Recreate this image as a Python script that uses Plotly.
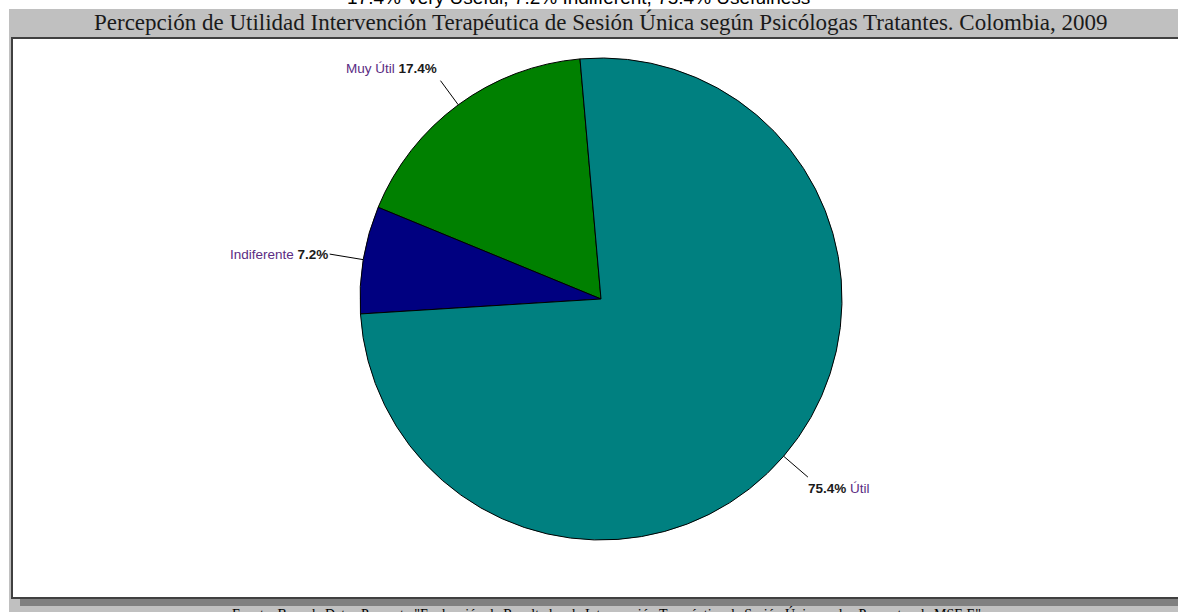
import math
import plotly.graph_objects as go

# ---- data ----
labels = ["Muy Útil", "Indiferente", "Útil"]
values = [17.4, 7.2, 75.4]
colors = ["#008000", "#000080", "#008080"]
title_text = "Percepción de Utilidad Intervención Terapéutica de Sesión Única según Psicólogas Tratantes. Colombia, 2009"
top_text = "17.4% Very Useful, 7.2% Indifferent, 75.4% Usefulness"
footer_text = 'Fuente: Base de Datos Proyecto "Evaluación de Resultados de Intervención Terapéutica de Sesión Única en los Proyectos de MSF-E"'

# ---- layout geometry (page pixels) ----
W, H = 1178, 612
OFF = 0  # body margin removed below
CX, CY, R = 601, 299, 241
START = 5.0  # degrees counter-clockwise from 12 o'clock where the first slice begins
total = sum(values)


def X(px):
    return (px - OFF) / W


def Y(py):
    return 1 - (py - OFF) / H


# plotly (counterclockwise) ends the first slice at `rotation`
rotation = -(START + values[0] / total * 360.0)

fig = go.Figure()
fig.add_trace(go.Pie(
    labels=labels, values=values, sort=False, direction="counterclockwise",
    rotation=rotation, marker=dict(colors=colors, line=dict(color="#000000", width=1)),
    textinfo="none", hoverinfo="label+percent", showlegend=False,
    domain=dict(x=[X(CX - R), X(CX + R)], y=[Y(CY + R), Y(CY - R)]),
))

shapes = [
    dict(type="rect", xref="paper", yref="paper", x0=X(9), x1=X(1200), y0=Y(640), y1=Y(9),
         fillcolor="#c0c0c0", line=dict(width=0), layer="below"),
    dict(type="rect", xref="paper", yref="paper", x0=X(20), x1=X(1200), y0=Y(606), y1=Y(598),
         fillcolor="#808080", line=dict(width=0), layer="below"),
    dict(type="rect", xref="paper", yref="paper", x0=X(12), x1=X(1200), y0=Y(598), y1=Y(38),
         fillcolor="#ffffff", line=dict(color="#404040", width=2), layer="below"),
]

# leader lines and labels computed from the slice angles
label_style = [
    # (extension px, xanchor, dx, dy, pct_first)
    (30, "right", -1, -12, False),
    (34, "right", 0, 0, False),
    (32, "left", -2, 11, True),
]
annotations = []
cum = 0.0
for lab, val, st in zip(labels, values, label_style):
    mid = START + (cum + val / 2) / total * 360.0
    cum += val
    th = math.radians(mid)
    dx, dy = -math.sin(th), -math.cos(th)
    ext, xa, ox, oy, pct_first = st
    x1, y1 = CX + R * dx, CY + R * dy
    x2, y2 = CX + (R + ext) * dx, CY + (R + ext) * dy
    shapes.append(dict(type="line", xref="paper", yref="paper", x0=X(x1), y0=Y(y1),
                       x1=X(x2), y1=Y(y2), line=dict(color="#000000", width=1)))
    name = f'<span style="color:#5b2c83">{lab}</span>'
    pct = f'<b>{val:.1f}%</b>'
    txt = f"{pct} {name}" if pct_first else f"{name} {pct}"
    annotations.append(dict(xref="paper", yref="paper", x=X(x2 + ox), y=Y(y2 + oy),
                            xanchor=xa, yanchor="middle", text=txt, showarrow=False,
                            font=dict(family="Liberation Sans, Arial", size=13.5, color="#1a1a1a")))

annotations += [
    dict(xref="paper", yref="paper", x=X(601), y=Y(22), xanchor="center", yanchor="middle",
         text=title_text, showarrow=False,
         font=dict(family="Liberation Serif, Times New Roman", size=23, color="#1a1a1a")),
    dict(xref="paper", yref="paper", x=X(578), y=Y(-3), xanchor="center", yanchor="middle",
         text=top_text, showarrow=False,
         font=dict(family="Liberation Sans, Arial", size=19, color="#000000")),
    dict(xref="paper", yref="paper", x=X(606), y=Y(604), xanchor="center", yanchor="top",
         text=footer_text, showarrow=False,
         font=dict(family="Liberation Serif, Times New Roman", size=14, color="#000000")),
]

fig.update_layout(
    width=W, height=H, margin=dict(l=0, r=0, t=0, b=0),
    paper_bgcolor="#ffffff", plot_bgcolor="#ffffff",
    shapes=shapes, annotations=annotations,
)
fig.write_html("out.html", config={"displayModeBar": False},
               post_script="document.body.style.margin='0';")
